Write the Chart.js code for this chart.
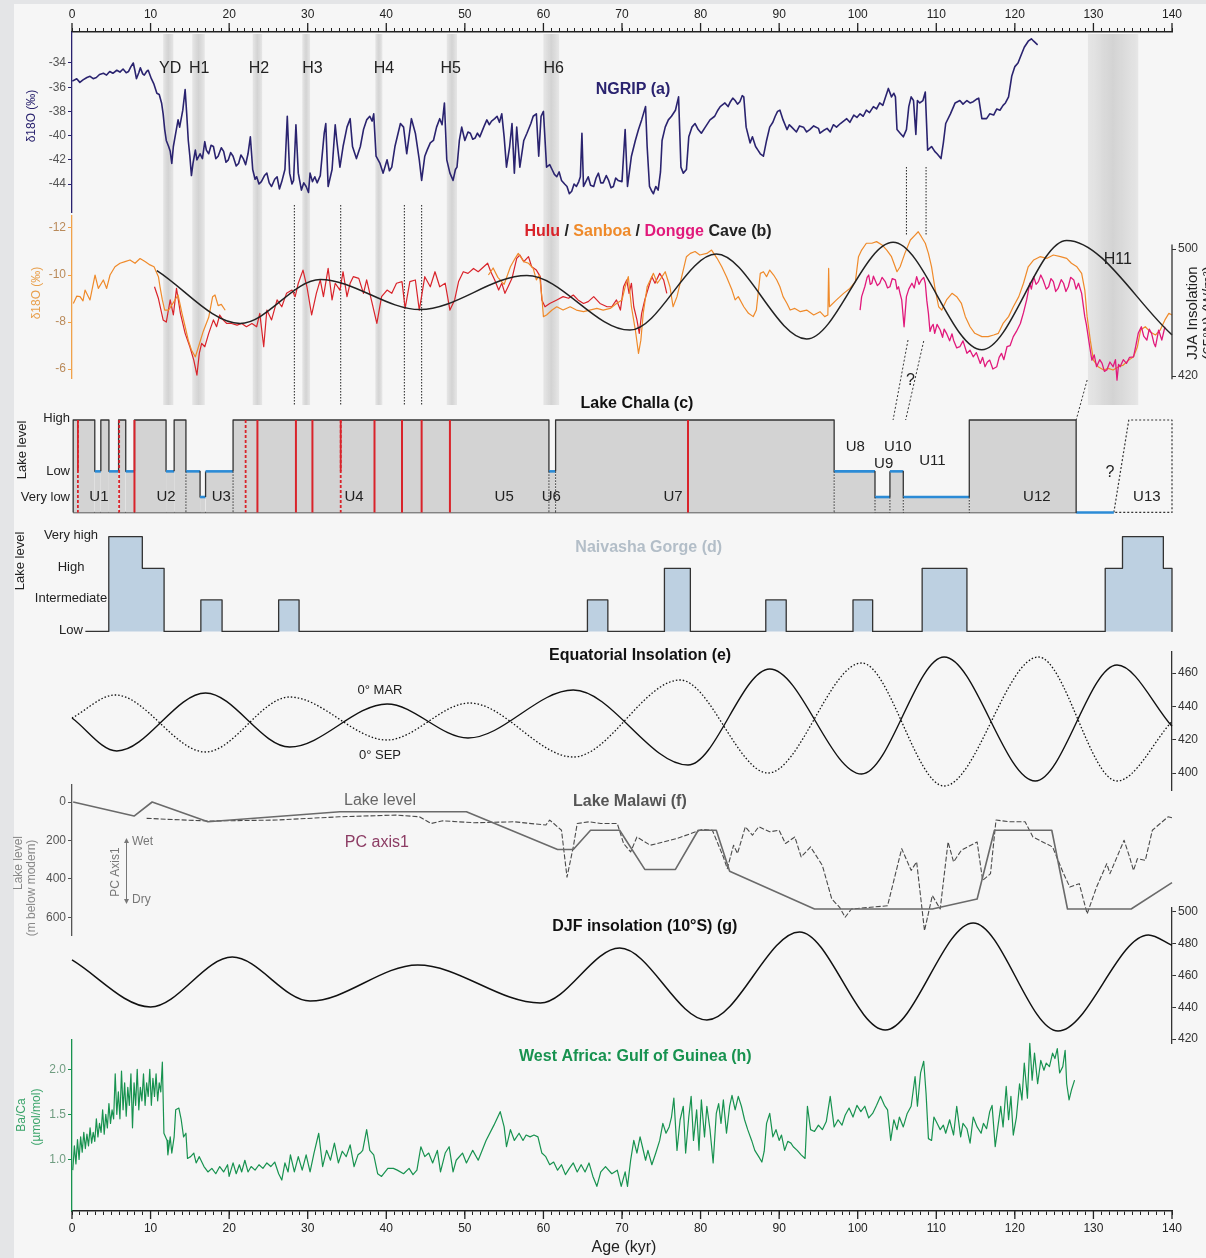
<!DOCTYPE html>
<html>
<head>
<meta charset="utf-8">
<script src="https://cdn.jsdelivr.net/npm/chart.js@4.4.1/dist/chart.umd.min.js"></script>
<style>
  html, body { margin: 0; padding: 0; background: #e4e5e7; }
  #page { position: relative; width: 1206px; height: 1258px; overflow: hidden; background: #e4e5e7; }
  #inner { position: absolute; left: 14px; top: 4px; right: 0; bottom: 0; background: #f6f6f6; }
  canvas { position: absolute; left: 0; }
</style>
</head>
<body>
<div id="page"><div id="inner"></div></div>
<script>
// ---------- data (ages in kyr) ----------
const ageLabels = [0, 10, 20, 30, 40, 50, 60, 70, 80, 90, 100, 110, 120, 130, 140];

// (a) NGRIP d18O
const ngripTicks = [-34, -36, -38, -40, -42, -44];
const ngrip = [
  [0.04,-35.5],[0.6,-35.3],[1.0,-35.6],[1.4,-35.4],[1.9,-35.2],[2.3,-35.1],[2.7,-35.3],[3.1,-35.2],[3.5,-34.95],[4.0,-34.85],
  [4.4,-35.0],[4.8,-34.7],[5.2,-34.85],[5.7,-34.6],[6.1,-34.75],[6.5,-34.5],[6.9,-34.8],[7.2,-34.7],[7.5,-34.3],[7.8,-34.0],
  [8.0,-34.6],[8.2,-35.3],[8.5,-34.8],[8.7,-34.4],[9.0,-34.9],[9.2,-35.0],[9.5,-34.7],[9.7,-34.6],[10.1,-35.3],[10.4,-35.7],
  [10.8,-36.5],[11.1,-36.6],[11.4,-37.3],[11.6,-38.2],[11.8,-39.5],[12.0,-40.4],[12.3,-40.9],[12.5,-41.3],[12.7,-42.3],[12.9,-40.9],
  [13.2,-39.8],[13.5,-38.7],[13.7,-39.3],[14.1,-37.9],[14.4,-36.2],[14.6,-38.2],[14.8,-40.4],[15.0,-41.7],[15.2,-43.3],[15.4,-42.3],
  [15.7,-41.2],[15.9,-42.0],[16.3,-41.5],[16.6,-41.9],[16.9,-40.5],[17.1,-41.2],[17.4,-41.5],[17.7,-40.8],[18.0,-40.9],[18.3,-41.9],
  [18.6,-41.7],[19.0,-41.0],[19.3,-41.3],[19.6,-42.2],[19.9,-42.0],[20.2,-41.4],[20.5,-41.7],[20.9,-42.5],[21.2,-42.3],[21.5,-41.6],
  [21.8,-41.9],[22.1,-42.4],[22.4,-41.5],[22.7,-40.1],[23.0,-42.8],[23.3,-43.6],[23.5,-43.4],[23.8,-44.0],[24.1,-43.8],[24.5,-43.3],
  [24.8,-43.1],[25.1,-43.9],[25.4,-44.2],[25.8,-43.6],[26.1,-43.4],[26.4,-44.4],[26.7,-43.8],[27.1,-42.8],[27.4,-38.4],[27.7,-43.1],
  [28.0,-44.0],[28.2,-43.7],[28.5,-39.1],[28.8,-43.1],[29.2,-44.5],[29.5,-43.9],[29.8,-44.2],[30.1,-44.7],[30.3,-43.1],[30.6,-43.8],
  [30.9,-43.4],[31.2,-43.9],[31.6,-43.3],[32.1,-39.8],[32.3,-39.0],[32.6,-44.2],[33.1,-42.8],[33.5,-39.1],[33.7,-40.4],[34.1,-42.6],
  [34.5,-40.9],[35.0,-39.3],[35.4,-38.6],[35.7,-40.9],[36.2,-41.9],[36.7,-40.9],[37.1,-39.5],[37.5,-38.7],[37.9,-38.4],[38.2,-38.8],
  [38.4,-38.2],[38.7,-41.7],[39.2,-42.3],[39.6,-43.1],[40.1,-42.0],[40.4,-42.9],[40.7,-42.6],[41.1,-40.9],[41.8,-39.0],[42.2,-39.3],
  [42.6,-41.5],[43.2,-38.6],[43.7,-39.8],[44.2,-42.0],[44.5,-43.7],[44.9,-41.7],[45.2,-41.2],[45.6,-40.6],[46.0,-40.4],[46.4,-39.3],
  [46.8,-38.6],[47.1,-39.1],[47.4,-37.3],[47.7,-42.0],[48.1,-43.1],[48.5,-43.7],[48.8,-42.8],[49.0,-42.6],[49.3,-40.4],[49.6,-39.3],
  [50.0,-40.4],[50.4,-39.7],[50.7,-39.8],[51.0,-40.3],[51.3,-40.2],[51.6,-39.8],[51.9,-40.1],[52.4,-39.3],[52.8,-38.7],[53.1,-39.1],
  [53.4,-38.8],[53.8,-38.6],[54.1,-38.4],[54.4,-38.9],[54.7,-38.2],[55.0,-40.1],[55.3,-42.6],[55.7,-40.9],[56.0,-39.0],[56.3,-43.1],
  [56.6,-39.3],[57.0,-42.6],[57.5,-40.4],[57.9,-39.8],[58.4,-39.0],[58.7,-38.4],[59.1,-38.2],[59.4,-41.7],[59.7,-38.4],[60.0,-38.0],
  [60.4,-42.6],[60.8,-42.4],[61.1,-42.8],[61.4,-43.2],[61.7,-43.4],[62.0,-43.0],[62.3,-43.7],[62.7,-44.0],[63.0,-44.2],[63.3,-44.8],
  [63.6,-44.6],[63.9,-44.0],[64.2,-44.2],[64.5,-43.8],[64.7,-43.4],[64.9,-39.8],[65.1,-44.2],[65.4,-43.8],[65.7,-43.4],[66.0,-44.1],
  [66.4,-44.2],[66.7,-43.5],[67.0,-43.1],[67.3,-43.9],[67.6,-43.9],[68.0,-43.3],[68.3,-43.7],[68.6,-44.3],[68.9,-44.2],[69.2,-43.5],
  [69.5,-43.7],[70.0,-43.8],[70.4,-39.5],[70.7,-44.2],[71.2,-41.7],[71.7,-40.4],[72.1,-39.5],[72.5,-38.7],[73.0,-37.6],[73.2,-40.9],
  [73.5,-44.2],[73.8,-44.6],[74.0,-44.8],[74.3,-44.2],[74.6,-44.5],[74.9,-43.0],[75.1,-40.4],[75.5,-39.3],[75.9,-38.7],[76.3,-38.4],
  [76.8,-37.9],[77.2,-36.8],[77.5,-42.6],[77.8,-43.1],[78.2,-42.8],[78.5,-40.1],[78.9,-39.3],[79.3,-39.0],[79.7,-39.5],[80.1,-39.8],
  [80.6,-39.3],[81.2,-38.7],[81.8,-38.4],[82.2,-37.9],[82.5,-37.6],[83.1,-37.3],[83.5,-37.6],[83.8,-37.2],[84.1,-36.9],[84.4,-37.1],
  [84.7,-37.4],[85.0,-37.2],[85.3,-36.7],[85.5,-36.8],[85.8,-39.3],[86.3,-40.6],[86.6,-40.1],[87.0,-40.9],[87.3,-41.2],[87.6,-41.5],
  [88.0,-41.7],[88.4,-40.4],[88.8,-39.3],[89.2,-38.9],[89.5,-38.4],[89.8,-38.0],[90.1,-37.9],[90.5,-38.7],[91.0,-39.5],[91.3,-39.1],
  [91.6,-39.3],[92.2,-39.7],[92.6,-39.2],[93.1,-39.3],[93.5,-39.7],[93.9,-39.5],[94.4,-39.2],[95.0,-39.4],[95.2,-39.8],[95.6,-39.6],
  [96.1,-39.4],[96.5,-39.7],[96.9,-39.1],[97.3,-39.3],[97.8,-39.0],[98.2,-38.8],[98.6,-38.6],[99.0,-38.9],[99.5,-38.3],[99.9,-38.5],
  [100.3,-38.2],[100.7,-38.4],[101.1,-37.9],[101.5,-38.1],[102.0,-37.6],[102.4,-37.8],[102.8,-37.3],[103.2,-37.5],[103.5,-36.9],[103.9,-36.1],
  [104.3,-36.8],[104.6,-36.5],[104.8,-36.8],[105.0,-39.5],[105.4,-39.8],[105.8,-40.1],[106.2,-39.5],[106.5,-37.6],[106.8,-36.8],[107.1,-37.1],
  [107.4,-39.9],[107.6,-37.1],[107.9,-37.3],[108.3,-37.1],[108.6,-36.4],[108.9,-41.2],[109.4,-40.9],[109.8,-41.3],[110.1,-41.5],[110.6,-41.9],
  [110.9,-40.6],[111.2,-39.0],[111.8,-38.2],[112.4,-37.3],[113.0,-37.1],[113.4,-37.4],[113.9,-37.1],[114.3,-37.3],[114.7,-37.2],[115.1,-37.0],
  [115.4,-36.9],[115.8,-38.6],[116.4,-38.6],[116.8,-38.2],[117.3,-38.3],[117.7,-37.8],[118.1,-37.9],[118.5,-37.5],[118.8,-37.3],[119.2,-36.8],
  [119.6,-35.1],[120.0,-34.3],[120.4,-34.0],[120.7,-33.5],[121.2,-32.7],[121.7,-32.2],[122.1,-32.0],[122.4,-32.2],[122.9,-32.5]
];

// stadial / Heinrich bands and their names
const bands = [[11.6,12.9],[15.3,16.9],[23.0,24.2],[29.3,30.3],[38.6,39.5],[47.7,49.0],[60.0,62.0],[129.3,135.7]];
const eventNames = ['YD', 'H1', 'H2', 'H3', 'H4', 'H5', 'H6'];
const eventAges = [12.5, 16.2, 23.8, 30.6, 39.7, 48.2, 61.3];
const linkAges = [28.3, 34.2, 42.3, 44.5];

// (b) cave d18O and JJA insolation 65N
const speleoTicks = [-12, -10, -8, -6];
const jjaTicks = [500, 420];
const hulu = [
  [10.5,-9.5],[11.0,-9.0],[11.6,-8.09],[12.0,-8.0],[12.5,-8.94],[12.9,-8.3],[13.3,-9.43],[13.8,-8.37],[14.4,-7.52],[15.0,-6.95],
  [15.5,-6.38],[15.9,-5.74],[16.2,-6.67],[16.5,-7.09],[16.9,-6.95],[17.4,-7.52],[18.0,-8.09],[18.4,-7.8],[18.8,-8.3],[19.2,-8.1],
  [19.7,-7.94],[20.3,-7.94],[21.0,-7.87],[21.6,-7.94],[22.2,-7.8],[22.9,-7.94],[23.5,-7.8],[23.9,-8.37],[24.4,-6.95],[24.8,-8.51],
  [25.4,-8.09],[26.1,-8.94],[26.7,-8.65],[27.3,-9.22],[28.0,-9.36],[28.4,-9.08],[28.8,-9.65],[29.4,-10.21],[29.9,-9.5],[30.5,-8.3],
  [31.1,-9.22],[31.6,-9.79],[32.0,-9.08],[32.6,-10.28],[33.1,-8.94],[33.5,-9.65],[34.1,-9.36],[34.5,-10.14],[35.0,-9.08],[35.4,-9.65],
  [35.8,-9.93],[36.5,-9.86],[37.1,-9.22],[37.5,-9.79],[38.1,-8.94],[38.8,-7.94],[39.4,-9.08],[40.1,-9.36],[40.7,-9.22],[41.3,-9.65],
  [42.0,-9.72],[42.4,-8.58],[43.0,-9.72],[43.7,-9.79],[44.2,-8.51],[44.9,-9.93],[45.6,-9.5],[46.2,-10.14],[46.8,-9.5],[47.5,-9.65],
  [48.1,-8.51],[48.7,-8.94],[49.2,-9.72],[49.8,-10.14],[50.4,-10.07],[51.1,-10.28],[51.7,-10.14],[52.4,-10.35],[52.9,-10.5],[53.3,-10.14],
  [53.8,-9.79],[54.3,-9.36],[54.7,-9.65],[55.1,-9.22],[55.5,-9.5],[56.0,-9.86],[56.6,-10.71],[57.0,-10.85],[57.5,-10.57],[58.1,-10.78],
  [58.5,-10.35],[59.1,-10.21],[59.6,-9.93],[59.8,-8.94],[60.2,-8.65],[60.8,-8.79],[61.7,-8.94],[62.5,-9.08],[63.2,-9.01],[63.8,-9.15],
  [64.4,-8.94],[65.1,-8.79],[65.7,-8.87],[66.4,-9.08],[67.2,-8.79],[68.1,-8.65],[68.7,-8.65],[69.3,-8.94],[69.8,-8.51],[70.2,-9.5],
  [70.6,-9.79],[70.9,-9.22],[71.2,-9.65],[71.5,-8.65],[71.9,-8.09],[72.2,-7.52],[72.5,-8.37],[72.9,-8.94],[73.4,-9.5],[73.8,-9.93],
  [74.2,-9.65],[74.8,-10.07],[75.3,-9.79],[75.7,-9.22]
];
const sanbao = [
  [0.17,-8.79],[0.6,-9.1],[1.02,-9.08],[1.4,-8.9],[1.66,-9.36],[2.29,-8.94],[2.93,-10.0],[3.35,-9.43],[3.99,-9.79],[4.41,-9.43],
  [4.84,-10.0],[5.47,-10.35],[6.11,-10.5],[6.75,-10.57],[7.38,-10.64],[8.02,-10.5],[8.66,-10.7],[9.29,-10.57],[9.93,-10.43],[10.44,-10.35],
  [11.0,-9.93],[11.2,-9.5],[11.5,-8.94],[11.8,-8.51],[12.3,-8.51],[12.7,-8.72],[13.1,-8.94],[13.5,-9.15],[14.0,-8.37],[14.4,-7.8],
  [14.8,-7.23],[15.2,-6.81],[15.7,-6.52],[16.1,-6.95],[16.7,-7.6],[17.4,-8.2],[17.9,-9.08],[18.2,-9.15],[18.6,-8.7],[19.0,-8.75],
  [19.5,-8.5],[30,null],
  [53.0,-10.0],[53.6,-10.3],[54.2,-9.9],[55.0,-9.6],[55.8,-10.35],[56.4,-10.71],[56.8,-10.92],[57.5,-10.57],[58.1,-10.5],[58.7,-10.28],
  [59.1,-9.79],[59.5,-10.0],[59.8,-9.08],[60.0,-8.23],[60.4,-8.3],[61.1,-8.51],[61.7,-8.65],[62.5,-8.51],[63.4,-8.65],[64.2,-8.51],
  [65.1,-8.44],[65.9,-8.51],[66.8,-8.58],[67.6,-8.51],[68.5,-8.58],[69.3,-8.79],[70.0,-8.94],[70.4,-9.5],[70.8,-9.93],[71.2,-8.65],
  [71.7,-7.66],[72.1,-6.67],[72.4,-7.23],[72.7,-8.37],[73.2,-9.5],[73.6,-9.79],[74.0,-10.07],[74.5,-9.65],[75.1,-9.93],[75.5,-10.14],
  [76.1,-9.5],[76.5,-8.65],[77.0,-9.08],[77.6,-9.93],[78.2,-10.78],[78.7,-10.92],[79.3,-11.0],[79.9,-10.85],[80.8,-10.92],[81.4,-11.06],
  [82.1,-10.71],[82.7,-10.35],[83.3,-9.93],[84.0,-9.36],[84.4,-8.94],[84.8,-9.08],[85.5,-8.65],[86.1,-8.37],[86.7,-8.23],[87.1,-8.51],
  [87.6,-10.07],[88.0,-10.14],[88.4,-9.93],[88.8,-10.21],[89.3,-10.0],[89.7,-9.79],[90.1,-9.5],[90.5,-9.08],[91.0,-8.79],[91.4,-8.51],
  [92.0,-8.58],[92.7,-8.44],[93.5,-8.51],[94.4,-8.3],[95.2,-8.44],[95.8,-8.23],[96.2,-8.3],[96.3,-10.28],[96.4,-8.65],[97.3,-8.94],
  [98.2,-9.22],[99.0,-9.43],[99.7,-9.72],[100.1,-10.78],[100.5,-11.06],[101.1,-11.35],[101.8,-11.35],[102.4,-11.42],[103.1,-11.28],[103.7,-11.06],
  [104.3,-10.78],[105.0,-10.14],[105.4,-10.35],[106.0,-10.92],[106.7,-11.49],[107.3,-11.7],[107.7,-11.84],[108.1,-11.63],[108.6,-11.35],[109.0,-10.92],
  [109.4,-10.35],[109.8,-9.5],[110.3,-8.65],[110.7,-8.51],[111.3,-8.94],[112.0,-9.22],[112.6,-9.08],[113.2,-8.79],[113.7,-8.23],[114.3,-7.8],
  [114.9,-7.52],[115.8,-7.38],[116.6,-7.38],[117.3,-7.45],[117.9,-7.52],[118.5,-7.94],[119.2,-8.23],[119.8,-8.65],[120.5,-9.08],[121.1,-9.65],
  [121.7,-10.35],[122.4,-10.64],[123.2,-10.78],[124.1,-10.71],[124.9,-10.85],[125.8,-10.78],[126.6,-10.71],[127.2,-10.5],[127.9,-10.35],[128.5,-10.07],
  [128.9,-9.36],[129.2,-8.23],[129.6,-7.23],[130.0,-6.38],[130.6,-6.1],[131.3,-5.96],[131.9,-6.03],[132.5,-5.96],[133.2,-6.1],[133.8,-6.17],
  [134.5,-6.38],[135.1,-6.52],[135.6,-6.95],[136.0,-7.66],[136.6,-7.8],[137.2,-7.59],[137.9,-7.45],[138.5,-7.66],[139.1,-8.09],[139.6,-8.37],
  [140.0,-8.3]
];
const dongge = [
  [100.3,-8.51],[100.5,-9.08],[100.9,-9.5],[101.2,-9.9],[101.4,-10.0],[101.6,-9.6],[101.8,-9.65],[102.0,-9.95],[102.2,-9.79],[102.5,-9.55],
  [102.8,-9.65],[103.1,-9.9],[103.5,-9.72],[103.8,-9.45],[104.1,-9.5],[104.4,-9.85],[104.8,-9.79],[105.0,-9.4],[105.2,-9.5],[105.4,-9.2],
  [105.6,-8.94],[105.9,-7.8],[106.2,-9.08],[106.5,-9.4],[106.9,-9.65],[107.2,-9.45],[107.5,-9.93],[107.8,-9.6],[108.1,-9.79],[108.4,-9.9],
  [108.6,-9.65],[108.8,-8.9],[109.0,-8.37],[109.2,-7.6],[109.4,-7.8],[109.6,-7.9],[109.8,-7.52],[110.1,-7.9],[110.5,-7.66],[110.8,-7.35],
  [111.0,-7.7],[111.3,-7.52],[111.7,-7.2],[112.0,-7.5],[112.2,-7.23],[112.6,-6.9],[113.0,-6.95],[113.4,-7.2],[113.9,-6.67],[114.3,-6.8],
  [114.7,-6.52],[115.1,-6.7],[115.6,-6.24],[115.9,-6.5],[116.2,-6.1],[116.5,-6.3],[116.8,-6.38],[117.2,-6.0],[117.7,-6.1],[118.0,-6.5],
  [118.3,-6.67],[118.6,-6.4],[119.0,-6.95],[119.4,-7.0],[119.8,-7.38],[120.2,-7.6],[120.7,-7.94],[121.1,-8.4],[121.5,-8.94],[121.9,-9.65],
  [122.1,-9.4],[122.4,-9.93],[122.7,-9.6],[123.0,-9.72],[123.3,-10.0],[123.6,-9.79],[124.0,-9.4],[124.3,-9.5],[124.6,-9.85],[124.9,-9.72],
  [125.2,-9.3],[125.5,-9.43],[125.9,-9.8],[126.2,-9.65],[126.5,-9.3],[126.8,-9.5],[127.1,-9.9],[127.5,-9.79],[127.8,-9.4],[128.1,-9.65],
  [128.5,-9.22],[128.9,-8.23],[129.1,-7.9],[129.4,-7.23],[129.6,-6.8],[129.8,-6.38],[130.1,-6.6],[130.4,-6.1],[130.8,-6.4],[131.1,-6.24],
  [131.4,-5.9],[131.7,-5.96],[132.1,-6.3],[132.5,-6.1],[132.8,-6.4],[133.0,-5.53],[133.2,-6.2],[133.4,-6.1],[133.8,-6.4],[134.2,-6.24],
  [134.6,-6.5],[135.1,-6.52],[135.4,-7.0],[135.7,-7.52],[136.1,-7.8],[136.4,-7.4],[136.8,-7.23],[137.1,-7.7],[137.4,-7.52],[137.7,-7.1],
  [137.9,-6.95],[138.3,-7.66],[138.7,-7.23],[139.1,-7.8]
];
const jja = [[10.8,486.5],[21.4,453.2],[31.6,480.9],[44.3,461.9],[57.9,483.4],[71.0,449.0],[82.0,496.9],[93.5,443.4],
  [104.5,504.3],[115.8,436.6],[126.6,505.5],[140.0,446.0]];

// (c) Lake Challa: High = 4, Low = 2, Very low = 1, base = 0.4
const challaTickNames = ['High', 'Low', 'Very low'];
const challaTickLevels = [4, 2, 1];
const challa = [
  [0.15,0.4],[0.15,4],[2.9,4],[2.9,2],[3.67,2],[3.67,4],[4.7,4],[4.7,2],[5.93,2],[5.93,4],[6.84,4],[6.84,2],[7.95,2],[7.95,4],
  [11.97,4],[11.97,2],[13.0,2],[13.0,4],[14.5,4],[14.5,2],[16.3,2],[16.3,1],[17.0,1],[17.0,2],[20.5,2],[20.5,4],[60.7,4],[60.7,2],
  [61.55,2],[61.55,4],[97.0,4],[97.0,2],[102.2,2],[102.2,1],[104.1,1],[104.1,2],[105.8,2],[105.8,1],[114.2,1],[114.2,4],[127.8,4],[127.8,0.4]
];
const challaBase = [[0.15,0.4],[127.8,0.4]];
const challaDryBase = [[127.8,0.4],[132.6,0.4]];
const challaU13 = [[132.6,0.4],[134.5,4],[140,4],[140,0.4],[132.6,0.4]];
const redSolid = [7.95, 23.6, 28.5, 30.6, 38.5, 42.0, 44.5, 48.1, 78.4];
const redDashed = [0.75, 6.0, 22.1, 34.2];
const redUpper = [0.75, 34.2];
const dottedEdges = [[14.5,2],[20.5,2],[60.7,2],[61.55,2],[97.0,2],[102.2,1],[104.1,1],[105.8,1],[114.2,1]];
const unitNames = ['U1','U2','U3','U4','U5','U6','U7','U8','U9','U10','U11','U12','U13'];

// (d) Naivasha Gorge: Low 0, Intermediate 1, High 2, Very high 3
const naivashaTickNames = ['Very high', 'High', 'Intermediate', 'Low'];
const naivashaTickLevels = [3, 2, 1, 0];
const naivasha = [
  [1.7,0],[4.68,0],[4.68,3],[8.95,3],[8.95,2],[11.72,2],[11.72,0],[16.4,0],[16.4,1],[19.1,1],[19.1,0],[26.3,0],[26.3,1],[28.9,1],
  [28.9,0],[65.6,0],[65.6,1],[68.2,1],[68.2,0],[75.4,0],[75.4,2],[78.7,2],[78.7,0],[88.3,0],[88.3,1],[90.9,1],[90.9,0],[99.4,0],
  [99.4,1],[101.9,1],[101.9,0],[108.2,0],[108.2,2],[113.9,2],[113.9,0],[131.5,0],[131.5,2],[133.7,2],[133.7,3],[138.9,3],[138.9,2],
  [140,2],[140,0]
];

// (e) equatorial insolation
const eqTicks = [460, 440, 420, 400];
const eqMar = [[0,433],[5.7,413.2],[17.0,448],[27.7,415.6],[40.1,441.4],[50.4,421],[63.8,449.8],[78.4,404.8],[88.8,462.4],
  [100.5,399.4],[111.0,469.6],[122.6,395.2],[133.0,464.8],[140,428]];
const eqSep = [[0,433],[5.5,446.8],[17.0,412.6],[27.7,445.6],[40.1,419.8],[50.6,442],[63.8,409.6],[77.4,455.8],[88.6,400],
  [100.5,466],[111.0,392.2],[123.0,469.6],[133.0,395.2],[140,431]];

// (f) Lake Malawi (m below modern)
const malawiTicks = [0, 200, 400, 600];
const malawiLevel = [[0.15,0],[7.9,73],[10.2,0],[17.3,103],[34.1,51],[50.2,51],[61.8,247],[63.8,247],[66.0,147],[69.7,147],
  [72.9,351],[76.8,351],[79.7,147],[82.0,147],[83.7,360],[94.5,557],[109.5,557],[115.2,505],[117.4,147],[124.7,147],
  [126.7,557],[134.8,557],[140,420]];
const malawiPC = [[9.5,85],[12.0,90],[17.5,99],[26.0,94],[34.0,77],[41.2,68],[44.2,77],[45.7,112],[47.2,98],[51.2,108],[56.3,103],
  [60.3,120],[60.8,94],[62.3,147],[63.0,391],[63.8,234],[64.3,112],[65.8,103],[67.3,112],[69.4,112],[70.2,216],[71.1,260],[71.9,182],
  [73.6,225],[77.0,190],[80.2,143],[81.5,147],[82.9,286],[83.4,347],[84.2,225],[84.7,268],[85.7,129],[86.6,173],[87.4,129],[88.8,155],
  [90.0,147],[90.8,216],[92.0,182],[92.8,286],[94.0,234],[95.5,330],[96.7,505],[97.7,548],[98.4,600],[99.2,557],[101.6,548],[103.8,540],
  [105.6,243],[106.8,356],[107.5,312],[108.5,670],[109.5,487],[110.5,557],[111.5,208],[112.2,312],[113.2,251],[115.2,208],[115.9,408],
  [116.9,373],[117.6,94],[119.4,103],[121.3,103],[122.3,182],[124.8,234],[126.2,373],[127.0,443],[128.2,425],[129.2,582],[130.4,443],
  [131.7,321],[132.1,373],[133.9,199],[134.6,286],[135.1,356],[135.6,295],[136.6,304],[137.5,147],[138.5,112],[139.5,77],[140,82]];

// (g) DJF insolation 10S
const djfTicks = [500, 480, 460, 440, 420];
const djf = [[0,469.8],[10.0,440.2],[20.4,471.6],[30.3,443.9],[44.0,466.6],[59.6,442.7],[69.7,477.3],[80.8,432],[92.6,487.4],
  [103.5,425.7],[114.7,493.1],[125.5,425],[137.0,485.5],[140,479]];

// (h) Gulf of Guinea Ba/Ca
const bacaTicks = [2.0, 1.5, 1.0];
const baca = [
  [0.1,0.88],[0.3,1.15],[0.5,0.95],[0.7,1.22],[0.9,1.0],[1.1,1.25],[1.3,1.08],[1.5,1.3],[1.7,1.12],[1.9,1.28],[2.1,1.15],[2.3,1.35],
  [2.5,1.18],[2.7,1.3],[2.9,1.2],[3.1,1.45],[3.3,1.25],[3.5,1.4],[3.7,1.3],[3.9,1.55],[4.1,1.28],[4.3,1.5],[4.5,1.35],[4.7,1.62],
  [4.9,1.4],[5.1,1.55],[5.3,1.45],[5.5,1.95],[5.7,1.5],[5.9,1.75],[6.1,1.45],[6.3,1.98],[6.5,1.55],[6.7,1.85],[6.9,1.48],[7.1,1.8],
  [7.3,1.6],[7.5,1.95],[7.7,1.35],[7.9,1.85],[8.1,1.6],[8.3,2.0],[8.5,1.55],[8.7,1.8],[8.9,1.65],[9.1,1.95],[9.3,1.6],[9.5,1.85],
  [9.7,1.7],[9.9,2.0],[10.1,1.6],[10.3,1.9],[10.5,1.7],[10.7,1.95],[10.9,1.65],[11.1,1.85],[11.3,1.75],[11.5,2.08],[11.7,1.29],
  [12.1,1.21],[12.2,1.05],[12.5,1.25],[12.7,1.07],[13.0,1.25],[13.2,1.55],[13.6,1.57],[13.9,1.44],[14.2,1.25],[14.5,1.29],[14.7,1.01],
  [15.1,1.03],[15.5,1.07],[15.8,0.96],[16.2,1.03],[16.8,0.92],[17.3,0.86],[17.8,0.90],[18.3,0.84],[18.8,0.92],[19.3,0.86],[19.8,0.94],
  [20.0,0.81],[20.5,0.96],[20.9,0.84],[21.3,0.94],[21.6,0.86],[22.0,0.99],[22.4,0.86],[22.8,0.92],[23.3,0.88],[23.8,0.94],[24.3,0.90],
  [24.8,0.96],[25.3,0.92],[25.8,0.97],[26.3,0.84],[26.7,0.77],[27.1,0.96],[27.5,0.86],[27.8,1.05],[28.3,0.86],[28.8,1.03],[29.3,0.88],
  [29.8,1.05],[30.3,0.86],[30.8,1.07],[31.4,1.29],[31.9,0.92],[32.4,1.10],[32.9,0.99],[33.4,1.18],[33.9,0.96],[34.4,1.09],[34.9,1.03],
  [35.4,1.16],[35.9,0.92],[36.4,1.05],[36.7,1.07],[37.0,1.10],[37.5,1.33],[37.9,1.10],[38.4,1.05],[38.9,0.84],[39.4,0.81],[40.2,0.90],
  [40.9,0.90],[41.4,0.88],[42.2,0.84],[42.9,0.90],[43.4,0.83],[43.9,0.88],[44.4,1.14],[44.9,1.03],[45.4,1.07],[45.9,0.96],[46.5,1.10],
  [46.9,0.86],[47.5,1.07],[48.0,1.14],[48.5,0.86],[48.9,0.99],[49.7,1.07],[50.2,0.96],[51.0,1.10],[51.7,0.99],[52.7,1.21],[53.7,1.38],
  [54.5,1.53],[55.0,1.36],[55.3,1.14],[55.8,1.33],[56.3,1.21],[56.9,1.29],[57.4,1.21],[57.8,1.27],[58.3,1.25],[58.8,1.27],[59.3,1.25],
  [59.8,1.07],[60.3,1.03],[60.8,0.94],[61.3,0.97],[61.8,0.88],[62.3,0.94],[62.8,0.83],[63.3,0.90],[63.8,0.96],[64.3,0.86],[64.8,0.94],
  [65.3,0.86],[65.8,0.96],[66.3,0.81],[66.8,0.70],[67.3,0.86],[67.9,0.92],[68.7,0.84],[69.4,0.88],[69.9,0.70],[70.4,0.86],[70.7,0.70],
  [71.1,0.99],[71.5,1.21],[71.9,1.07],[72.3,1.25],[72.6,1.14],[73.0,0.99],[73.3,1.10],[73.8,0.94],[74.3,1.07],[74.8,1.21],[75.2,1.40],
  [75.6,1.29],[76.0,1.36],[76.3,1.47],[76.6,1.68],[77.0,1.10],[77.4,1.44],[77.8,1.59],[78.1,1.07],[78.5,1.47],[78.8,1.70],[79.1,1.21],
  [79.5,1.55],[79.8,1.10],[80.1,1.66],[80.5,1.25],[80.8,1.59],[81.2,1.33],[81.6,0.96],[82.0,1.51],[82.3,1.62],[82.6,1.40],[82.9,1.66],
  [83.3,1.29],[83.7,1.59],[84.0,1.71],[84.4,1.55],[84.8,1.70],[85.2,1.59],[85.6,1.44],[86.0,1.33],[86.5,1.21],[86.9,1.10],[87.4,1.03],
  [87.8,0.97],[88.1,1.09],[88.4,1.40],[88.8,1.51],[89.2,1.25],[89.6,1.33],[90.0,1.21],[90.3,1.27],[90.7,1.10],[91.1,1.20],[91.5,1.18],
  [91.8,1.14],[92.3,1.10],[92.8,1.05],[93.3,1.01],[93.6,1.59],[94.0,1.33],[94.5,1.31],[95.0,1.38],[95.5,1.33],[96.0,1.42],[96.5,1.70],
  [97.0,1.36],[97.5,1.44],[98.0,1.38],[98.4,1.49],[98.9,1.57],[99.4,1.47],[99.9,1.60],[100.4,1.53],[100.9,1.59],[101.4,1.46],[101.9,1.51],
  [102.4,1.60],[102.9,1.70],[103.4,1.60],[103.8,1.55],[104.2,1.21],[104.6,1.44],[105.0,1.33],[105.3,1.47],[105.8,1.36],[106.3,1.51],
  [106.8,1.59],[107.3,1.92],[107.6,1.59],[108.0,1.96],[108.4,2.09],[108.7,1.73],[109.0,1.23],[109.4,1.21],[109.7,1.47],[110.1,1.40],
  [110.5,1.33],[110.9,1.38],[111.2,1.29],[111.7,1.44],[112.2,1.27],[112.6,1.59],[113.1,1.25],[113.4,1.40],[113.9,1.34],[114.3,1.18],
  [114.7,1.47],[115.2,1.36],[115.7,1.29],[116.0,1.40],[116.4,1.34],[116.8,1.53],[117.1,1.60],[117.5,1.14],[117.9,1.40],[118.2,1.59],
  [118.5,1.36],[118.9,1.81],[119.2,1.44],[119.5,1.70],[119.8,1.27],[120.2,1.47],[120.6,1.84],[120.9,1.66],[121.2,2.07],[121.6,1.68],
  [121.9,2.29],[122.2,1.88],[122.5,2.18],[122.9,1.84],[123.3,2.10],[123.7,1.99],[124.0,2.07],[124.4,2.03],[124.8,2.18],[125.1,2.12],
  [125.4,2.23],[125.7,1.96],[126.1,2.03],[126.4,2.21],[126.6,1.84],[126.9,1.66],[127.2,1.77],[127.6,1.88]
];

// ---------- styling & helpers ----------
const FONT = '"Liberation Sans", Arial, Helvetica, sans-serif';
const NAVY = '#2a236f', RED = '#d9232a', ORANGE = '#ef8a2a', MAGENTA = '#e1197b', GREEN = '#17924f', BLUE = '#2b8bd6';
Chart.defaults.font.family = FONT;

const page = document.getElementById('page');
const P = arr => arr.map(([x, y]) => ({ x, y }));

function text(ctx, s, x, y, o = {}) {
  ctx.save();
  ctx.font = `${o.weight || 'normal'} ${o.size || 13}px ${FONT}`;
  ctx.fillStyle = o.color || '#222';
  ctx.textAlign = o.align || 'center';
  ctx.textBaseline = 'middle';
  ctx.translate(x, y);
  if (o.rot) ctx.rotate(o.rot);
  ctx.fillText(s, 0, 0);
  ctx.restore();
}
function seg(ctx, x1, y1, x2, y2, color, width, dash) {
  ctx.save();
  ctx.beginPath();
  ctx.strokeStyle = color; ctx.lineWidth = width || 1; ctx.setLineDash(dash || []);
  ctx.moveTo(x1, y1); ctx.lineTo(x2, y2); ctx.stroke();
  ctx.restore();
}
const UP = -Math.PI / 2;

function line(data, color, width, extra) {
  return Object.assign({ data: P(data), borderColor: color, borderWidth: width, pointRadius: 0, fill: false,
    tension: 0, spanGaps: false, borderJoinStyle: 'round', clip: 6 }, extra || {});
}
const xHidden = () => ({ type: 'linear', min: 0, max: 140, display: false });
function xAxis(pos, h) {
  return { type: 'linear', position: pos, min: 0, max: 140,
    afterFit: s => { s.height = h; },
    grid: { display: true, drawOnChartArea: false, drawTicks: true, tickLength: 4, color: '#222', lineWidth: 1 },
    border: { display: true, color: '#222', width: 1.5 },
    ticks: { stepSize: 1, autoSkip: false, maxRotation: 0, padding: 6, color: '#222', font: { size: 12 },
      callback: v => ageLabels.includes(v) ? String(v) : '' } };
}
function yAxis(pos, min, max, ticks, color, o = {}) {
  return { type: 'linear', position: pos, min, max, reverse: !!o.reverse,
    afterFit: s => { s.width = pos === 'left' ? 72 : 34; },
    afterBuildTicks: s => { s.ticks = ticks.map(v => ({ value: v })); },
    grid: { display: true, drawOnChartArea: false, drawTicks: true, tickLength: 4, color },
    border: { display: o.border !== false, color, width: 1.3 },
    ticks: { color: o.labelColor || '#333', font: { size: 12 }, padding: 2, callback: o.fmt || (v => String(v)) } };
}

function panel(top, height, padding, scales, datasets, before, after) {
  const cv = document.createElement('canvas');
  cv.width = 1206; cv.height = height;
  cv.style.top = top + 'px';
  page.appendChild(cv);
  const py = y => y - top;
  return new Chart(cv, {
    type: 'line',
    data: { datasets },
    options: { responsive: false, animation: false, events: [], layout: { padding },
      plugins: { legend: { display: false }, tooltip: { enabled: false } }, scales },
    plugins: [{ id: 'deco',
      beforeDatasetsDraw(c) { if (before) before(c, c.ctx, v => c.scales.x.getPixelForValue(v), py); },
      afterDraw(c) { if (after) after(c, c.ctx, v => c.scales.x.getPixelForValue(v), py); } }]
  });
}

// ---------- (a) NGRIP, with event bands over (a)-(b) ----------
panel(0, 412, { left: 0, right: 34, top: 0, bottom: 200 }, {
  x: xAxis('top', 32),
  y: yAxis('left', -46.31, -31.44, ngripTicks, NAVY, { labelColor: '#555' })
}, [line(ngrip, NAVY, 1.6)],
(c, ctx, X, py) => {
  bands.forEach(([a, b]) => {
    const x1 = X(a), x2 = X(b);
    const g = ctx.createLinearGradient(x1, 0, x2, 0);
    g.addColorStop(0, 'rgba(150,150,150,0.16)');
    g.addColorStop(0.5, 'rgba(150,150,150,0.36)');
    g.addColorStop(1, 'rgba(150,150,150,0.16)');
    ctx.fillStyle = g;
    ctx.fillRect(x1, py(34), x2 - x1, 405 - 34);
  });
},
(c, ctx, X, py) => {
  const t = c.chartArea.top;
  ageLabels.forEach(v => seg(ctx, X(v), t, X(v), t - 9, '#222', 1.3));
  eventNames.forEach((n, i) => text(ctx, n, X(eventAges[i]), py(69), { size: 16, color: '#222' }));
  text(ctx, 'NGRIP (a)', X(71.4), py(90), { size: 16, weight: 'bold', color: NAVY });
  text(ctx, 'δ18O (‰)', 32, py(116), { size: 12, color: NAVY, rot: UP });
  linkAges.forEach(a => seg(ctx, X(a), py(205), X(a), py(405), '#222', 1, [1.5, 1.5]));
  [106.2, 108.7].forEach(a => seg(ctx, X(a), py(167), X(a), py(235), '#222', 1, [1.5, 1.5]));
});

// ---------- (b) cave records + JJA insolation ----------
panel(195, 225, { left: 0, right: 0, top: 21, bottom: 42 }, {
  x: xHidden(),
  y: yAxis('left', -12.51, -5.62, speleoTicks, '#f0a24a', { reverse: true, labelColor: '#b98a5a' }),
  y2: yAxis('right', 418.8, 520.9, jjaTicks, '#333', { border: false })
}, [
  line(jja, '#222', 1.5, { yAxisID: 'y2', cubicInterpolationMode: 'monotone' }),
  line(dongge, MAGENTA, 1.3, { yAxisID: 'y' }),
  line(sanbao, ORANGE, 1.2, { yAxisID: 'y' }),
  line(hulu, RED, 1.2, { yAxisID: 'y' })
], null,
(c, ctx, X, py) => {
  const parts = [['Hulu', RED], [' / ', '#222'], ['Sanboa', ORANGE], [' / ', '#222'], ['Dongge', MAGENTA], [' Cave (b)', '#222']];
  ctx.save();
  ctx.font = `bold 16px ${FONT}`;
  ctx.textAlign = 'left'; ctx.textBaseline = 'middle';
  let x = 648 - parts.reduce((s, p) => s + ctx.measureText(p[0]).width, 0) / 2;
  parts.forEach(([s, col]) => { ctx.fillStyle = col; ctx.fillText(s, x, py(232)); x += ctx.measureText(s).width; });
  ctx.restore();
  const y2 = c.scales.y2, r = c.chartArea.right;
  seg(ctx, r, y2.getPixelForValue(503), r, y2.getPixelForValue(418), '#333', 1.3);
  text(ctx, 'JJA Insolation', 1193, py(313), { size: 15, rot: UP });
  text(ctx, '(65°N) (W/m²)', 1209, py(313), { size: 15, rot: UP });
  text(ctx, 'δ18O (‰)', 37, py(293), { size: 12, color: '#e8a04e', rot: UP });
  text(ctx, 'H11', X(133.1), py(260), { size: 16 });
  text(ctx, '?', X(106.7), py(381), { size: 16 });
  seg(ctx, X(106.4), py(340), X(104.5), py(420), '#333', 1, [2, 2]);
  seg(ctx, X(108.4), py(341), X(106.1), py(420), '#333', 1, [2, 2]);
  seg(ctx, X(129.2), py(380), X(127.8), py(420), '#333', 1, [2, 2]);
});

// ---------- (c) Lake Challa ----------
const unitPos = [[3.43,1],[11.96,1],[19.0,1],[35.9,1],[55.0,1],[61.0,1],[76.5,1],[99.7,2.95],[103.3,2.3],[105.1,2.95],[109.5,2.4],[122.8,1],[136.8,1]];
panel(395, 130, { left: 72, right: 34, top: 15, bottom: 10 }, {
  x: xHidden(),
  y: { type: 'linear', min: 0.3, max: 4.39, display: false }
}, [
  line(challa, '#333', 1.3, { fill: { value: 0.4 }, backgroundColor: '#d3d3d3',
    segment: {
      borderColor: s => (s.p0.parsed.y === s.p1.parsed.y && s.p0.parsed.y < 3) ? BLUE : '#333',
      borderWidth: s => (s.p0.parsed.y === s.p1.parsed.y && s.p0.parsed.y < 3) ? 2.6 : 1.3 } }),
  line(challaBase, '#333', 1.5),
  line(challaDryBase, BLUE, 2.6),
  line(challaU13, '#333', 1.2, { borderDash: [2, 2], fill: { value: 0.4 }, backgroundColor: '#d3d3d3' })
], null,
(c, ctx, X, py) => {
  const Y = v => c.scales.y.getPixelForValue(v);
  redDashed.forEach(a => seg(ctx, X(a), Y(4), X(a), Y(0.4), RED, 1.8, [3, 2]));
  redUpper.forEach(a => seg(ctx, X(a), Y(4), X(a), Y(2), RED, 1.8));
  redSolid.forEach(a => seg(ctx, X(a), Y(4), X(a), Y(0.4), RED, 2));
  dottedEdges.forEach(([a, lv]) => seg(ctx, X(a), Y(lv), X(a), Y(0.4), '#333', 1, [1.5, 1.5]));
  unitNames.forEach((n, i) => text(ctx, n, X(unitPos[i][0]), Y(unitPos[i][1]), { size: 15 }));
  text(ctx, '?', X(132.1), Y(1.97), { size: 16 });
  challaTickNames.forEach((n, i) => text(ctx, n, 70, Y(challaTickLevels[i]) - (i === 0 ? 2 : 0), { size: 13, align: 'right' }));
  text(ctx, 'Lake level', 22, py(450), { size: 13, rot: UP });
  text(ctx, 'Lake Challa (c)', X(71.9), py(404), { size: 16, weight: 'bold', color: '#111' });
});

// ---------- (d) Naivasha Gorge ----------
panel(512, 140, { left: 72, right: 34, top: 13, bottom: 12 }, {
  x: xHidden(),
  y: { type: 'linear', min: -0.27, max: 3.37, display: false }
}, [line(naivasha, '#333', 1.3, { fill: 'origin', backgroundColor: '#bdd0e1' })], null,
(c, ctx, X, py) => {
  const Y = v => c.scales.y.getPixelForValue(v);
  naivashaTickNames.forEach((n, i) => text(ctx, n, 71, Y(naivashaTickLevels[i]) - 1, { size: 13 }));
  text(ctx, 'Lake level', 20, py(561), { size: 13, rot: UP });
  text(ctx, 'Naivasha Gorge (d)', X(73.4), py(548), { size: 16, weight: 'bold', color: '#b3bec8' });
});

// ---------- (e) equatorial insolation ----------
panel(635, 165, { left: 72, right: 0, top: 17, bottom: 10 }, {
  x: xHidden(),
  y: yAxis('right', 389.8, 472.6, eqTicks, '#333')
}, [
  line(eqMar, '#111', 1.4, { cubicInterpolationMode: 'monotone' }),
  line(eqSep, '#111', 1.3, { cubicInterpolationMode: 'monotone', borderDash: [1.5, 2] })
], null,
(c, ctx, X, py) => {
  text(ctx, 'Equatorial Insolation (e)', X(72.3), py(656), { size: 16, weight: 'bold', color: '#111' });
  text(ctx, '0° MAR', X(39.2), py(690), { size: 13 });
  text(ctx, '0° SEP', X(39.2), py(755), { size: 13 });
});

// ---------- (f) Lake Malawi ----------
panel(770, 180, { left: 0, right: 34, top: 15, bottom: 15 }, {
  x: xHidden(),
  y: yAxis('left', -88.5, 692.3, malawiTicks, '#555', { reverse: true, labelColor: '#555' })
}, [
  line(malawiLevel, '#6a6a6a', 1.6),
  line(malawiPC, '#4a4a4a', 1.1, { borderDash: [5, 2] })
], null,
(c, ctx, X, py) => {
  text(ctx, 'Lake Malawi (f)', X(71.0), py(802), { size: 16, weight: 'bold', color: '#555' });
  text(ctx, 'Lake level', X(39.2), py(801), { size: 16, color: '#666' });
  text(ctx, 'PC axis1', X(38.8), py(843), { size: 16, color: '#8c3c64' });
  const ax = 126.5;
  seg(ctx, ax, py(842), ax, py(900), '#777', 1);
  ctx.save(); ctx.fillStyle = '#777';
  ctx.beginPath(); ctx.moveTo(ax, py(838)); ctx.lineTo(ax - 2.5, py(843)); ctx.lineTo(ax + 2.5, py(843)); ctx.fill();
  ctx.beginPath(); ctx.moveTo(ax, py(904)); ctx.lineTo(ax - 2.5, py(899)); ctx.lineTo(ax + 2.5, py(899)); ctx.fill();
  ctx.restore();
  text(ctx, 'PC Axis1', 116, py(872), { size: 12, color: '#777', rot: UP });
  text(ctx, 'Wet', 132, py(842), { size: 12, color: '#777', align: 'left' });
  text(ctx, 'Dry', 132, py(900), { size: 12, color: '#777', align: 'left' });
  text(ctx, 'Lake level', 19, py(863), { size: 12, color: '#888', rot: UP });
  text(ctx, '(m below modern)', 32, py(888), { size: 12, color: '#888', rot: UP });
});

// ---------- (g) DJF insolation 10S ----------
panel(895, 160, { left: 72, right: 0, top: 13, bottom: 12 }, {
  x: xHidden(),
  y: yAxis('right', 417.5, 502.5, djfTicks, '#333')
}, [line(djf, '#111', 1.5, { cubicInterpolationMode: 'monotone' })], null,
(c, ctx, X, py) => {
  text(ctx, 'DJF insolation (10°S) (g)', X(72.9), py(927), { size: 16, weight: 'bold', color: '#111' });
});

// ---------- (h) Gulf of Guinea Ba/Ca ----------
panel(1025, 233, { left: 0, right: 34, top: 15, bottom: 0 }, {
  x: xAxis('bottom', 47),
  y: yAxis('left', 0.426, 2.326, bacaTicks, GREEN, { labelColor: '#6f9c80', fmt: v => v.toFixed(1) })
}, [line(baca, GREEN, 1.2)], null,
(c, ctx, X, py) => {
  const b = c.chartArea.bottom;
  ageLabels.forEach(v => seg(ctx, X(v), b, X(v), b + 8, '#222', 1.3));
  text(ctx, 'Age (kyr)', 624, py(1248), { size: 16 });
  text(ctx, 'West Africa: Gulf of Guinea (h)', X(71.7), py(1057), { size: 16, weight: 'bold', color: GREEN });
  text(ctx, 'Ba/Ca', 22, py(1115), { size: 12, color: '#3aa46a', rot: UP });
  text(ctx, '(µmol/mol)', 37, py(1117), { size: 12, color: '#3aa46a', rot: UP });
});
</script>
</body>
</html>
